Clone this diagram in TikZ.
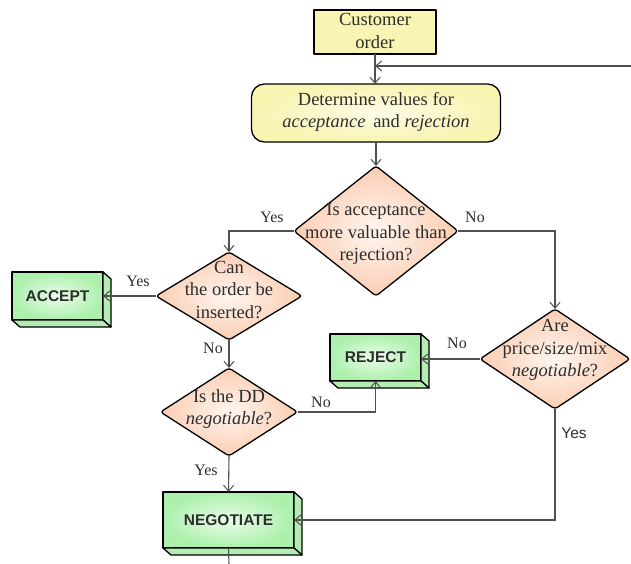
\documentclass[tikz,border=0pt]{standalone}
\usepackage{fontspec}
\setmainfont{Liberation Serif}
\newfontfamily\arialfont{Liberation Sans}
\usetikzlibrary{shapes.geometric,arrows.meta,calc}
\definecolor{yel}{RGB}{248,244,178}
\definecolor{yelin}{RGB}{253,252,230}
\definecolor{peach}{RGB}{250,205,178}
\definecolor{peachin}{RGB}{255,246,240}
\definecolor{grn}{RGB}{172,240,172}
\definecolor{grnin}{RGB}{234,252,234}
\definecolor{grnside}{RGB}{180,236,180}
\definecolor{ln}{RGB}{80,80,80}
\definecolor{txt}{RGB}{45,45,45}
\tikzset{
  every node/.style={outer sep=0pt},
  shapeline/.style={draw=black, line width=1.3pt, line join=round},
  procbox/.style={shapeline, rectangle, fill=yel, inner sep=0pt},
  termbox/.style={shapeline, rectangle, rounded corners=13pt, shading=radial, inner color=yelin, outer color=yel, inner sep=0pt},
  decision/.style={shapeline, diamond, rounded corners=3pt, inner sep=0pt, shading=radial, inner color=peachin, outer color=peach},
  actbox/.style={shapeline, rectangle, inner sep=0pt, shading=radial, inner color=grnin, outer color=grn,
     font=\arialfont\bfseries\fontsize{15.5}{18}\selectfont, text=txt},
  face/.style={shapeline, fill=grnside},
  maintext/.style={align=center, inner sep=0pt, text=txt, font=\fontsize{18.5}{22.5}\selectfont},
  lbl/.style={inner sep=0pt, text=txt, font=\fontsize{16}{18}\selectfont},
  lblsans/.style={inner sep=0pt, text=txt, font=\arialfont\fontsize{15.5}{18}\selectfont},
  conn/.style={draw=ln, line width=1.1pt, -{Straight Barb[length=6pt,width=10pt,line width=1pt]}},
  plain/.style={draw=ln, line width=1.1pt},
}
\begin{document}
\begin{tikzpicture}[x=1pt,y=-1pt]
\useasboundingbox (0,0) rectangle (631,564);
% shapes
\node[procbox, minimum width=122pt, minimum height=44pt] (cust) at (375,32) {};
\node[maintext] (custT) at (375,31) {Customer\\order};
\node[termbox, minimum width=249pt, minimum height=58pt] (det) at (376,113) {};
\node[maintext] (detT) at (376,112) {Determine values for\\\textit{acceptance}\, and \textit{rejection}};
\node[decision, minimum width=164pt, minimum height=130pt] (d1) at (376,231) {};
\node[maintext] (d1T) at (376,234) {Is acceptance\\more valuable than\\rejection?};
\node[decision, minimum width=146pt, minimum height=88pt] (d2) at (229,296) {};
\node[maintext] (d2T) at (229,290) {Can\\the order be\\inserted?};
\node[decision, minimum width=150pt, minimum height=100pt] (d3) at (555,359) {};
\node[maintext] (d3T) at (555,350) {Are\\price/size/mix\\\textit{negotiable}?};
\node[decision, minimum width=137pt, minimum height=88pt] (d4) at (229,412) {};
\node[maintext] (d4T) at (229,409) {Is the DD\\\textit{negotiable}?};
% 3D boxes
\node[actbox, minimum width=91pt, minimum height=48pt] (acc) at (57.5,296) {ACCEPT};
\node[actbox, minimum width=91pt, minimum height=47pt] (rej) at (375.5,357.5) {REJECT};
\node[actbox, minimum width=131pt, minimum height=56pt] (neg) at (228.5,520) {NEGOTIATE};
\foreach \n in {acc,rej,neg}{
  \draw[face] (\n.north east) -- ++(8,7) -- ($(\n.south east)+(8,7)$) -- (\n.south east) -- cycle;
  \draw[face] (\n.south west) -- ++(8,7) -- ($(\n.south east)+(8,7)$) -- (\n.south east) -- cycle;
}
% connectors
\coordinate (inR) at (631,66);
\coordinate (outB) at (229,564);
\draw[conn] (cust.south) -- (cust.south |- det.north);
\draw[conn] (inR) -- (inR -| cust.south);
\draw[conn] (det.south) -- (d1.north);
\draw[conn] (d1.west) -| (d2.north);
\draw[conn] (d1.east) -| (d3.north);
\draw[conn] (d2.west) -- (acc.east);
\draw[conn] (d2.south) -- (d4.north);
\draw[conn] (d4.east) -| (rej.south);
\draw[conn] (d3.west) -- (d3.west -| rej.east);
\draw[conn] (d3.south) |- (neg.east);
\draw[conn] (d4.south) -- (neg.north);
\draw[plain] (neg.south) -- (outB);
% labels
\node[lbl] (l1) at (272,217) {Yes};
\node[lbl] (l2) at (475,217) {No};
\node[lbl] (l3) at (138,281) {Yes};
\node[lbl] (l4) at (213,348) {No};
\node[lbl] (l5) at (321,402) {No};
\node[lbl] (l6) at (457,343) {No};
\node[lblsans] (l7) at (574,433) {Yes};
\node[lbl] (l8) at (206,470) {Yes};
\end{tikzpicture}
\end{document}
